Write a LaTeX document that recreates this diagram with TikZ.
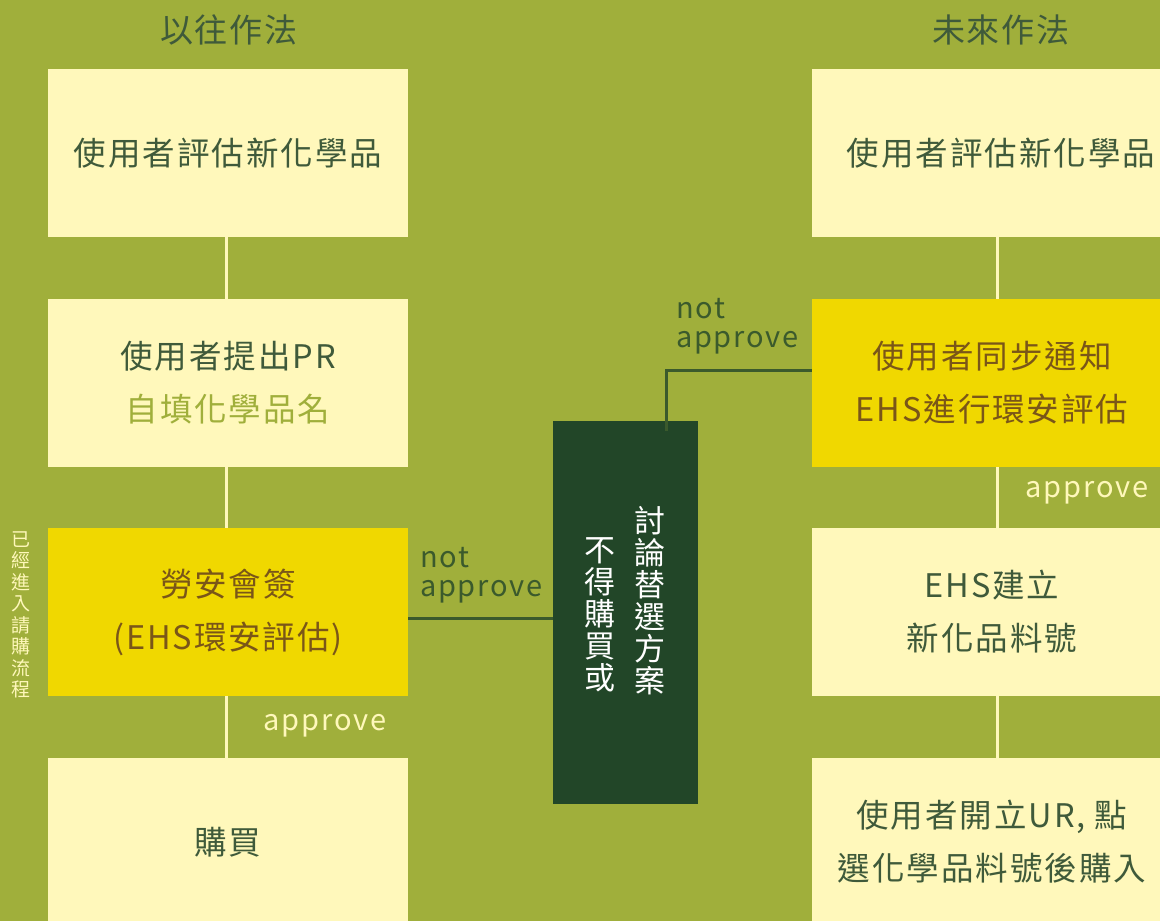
\documentclass[tikz,border=0pt]{standalone}
\usepackage{fontspec}
\setmainfont{Noto Sans CJK TC}[LetterSpace=6]
\definecolor{bgol}{HTML}{A0AF3B}
\definecolor{cream}{HTML}{FFF8BB}
\definecolor{yel}{HTML}{F0D800}
\definecolor{dkg}{HTML}{224628}
\definecolor{txg}{HTML}{3F5A3A}
\definecolor{txb}{HTML}{7A5618}
\definecolor{lng}{HTML}{3B5A2C}
\begin{document}
\begin{tikzpicture}[x=1pt,y=-1pt,
  box/.style={fill=cream, draw=none, minimum width=360, minimum height=168, inner sep=0, align=center, text=txg, font=\fontsize{32.5}{53}\selectfont},
  ybox/.style={box, fill=yel, text=txb},
  wline/.style={draw=cream, line width=3pt},
  conn/.style={draw=lng, line width=3pt},
  ttl/.style={text=txg, font=\fontsize{33}{36}\selectfont},
  lbl/.style={align=left, inner sep=0, text=lng, font=\fontsize{29}{29}\selectfont},
  wlbl/.style={inner sep=0, text=cream, font=\fontsize{29}{29}\selectfont},
  vtxt/.style={align=center, inner sep=0, text=white, font=\fontsize{31}{32}\selectfont},
]
\useasboundingbox (0,0) rectangle (1160,921);
\fill[bgol] (0,0) rectangle (1160,921);

% vertical connectors (drawn first, behind boxes)
\draw[wline] (226,237) -- (226,758);
\draw[wline] (997,237) -- (997,758);

% titles
\node[ttl] (t1) at (229,30) {以往作法};
\node[ttl] (t2) at (1001,30) {未來作法};

% left column
\node[box] (L1) at (228,153) {使用者評估新化學品};
\node[box] (L2) at (228,383) {使用者提出PR\\\textcolor{bgol}{自填化學品名}};
\node[ybox] (L3) at (228,612) {勞安會簽\\(EHS環安評估)};
\node[box] (L4) at (228,842) {購買};

% right column
\node[box] (R1) at (992,153) {\hspace*{18pt}使用者評估新化學品};
\node[ybox] (R2) at (992,383) {使用者同步通知\\EHS進行環安評估};
\node[box] (R3) at (992,612) {EHS建立\\新化品料號};
\node[box] (R4) at (992,842) {使用者開立UR, 點\\選化學品料號後購入};

% centre box
\node[fill=dkg, minimum width=145, minimum height=383, inner sep=0] (C) at (625.5,612.5) {};
\node[vtxt] (c1) at (650,601) {討\\論\\替\\選\\方\\案};
\node[vtxt] (c2) at (600,615) {不\\得\\購\\買\\或};

% connectors
\draw[conn] (408,618) -- (C.west |- 0,618);
\coordinate (k) at (666,431);
\draw[conn] (R2.west |- 0,370) -| (k);

% labels
\node[lbl, anchor=west] (n1) at (420,575) {not\\approve};
\node[lbl, anchor=west] (n2) at (676,326) {not\\approve};
\node[wlbl] (a1) at (325,726) {approve};
\node[wlbl] (a2) at (1087,493) {approve};

% side vertical text
\node[align=center, inner sep=0, text=cream, font=\fontsize{19}{21.5}\selectfont] (side) at (21,615) {已\\經\\進\\入\\請\\購\\流\\程};
\end{tikzpicture}
\end{document}
